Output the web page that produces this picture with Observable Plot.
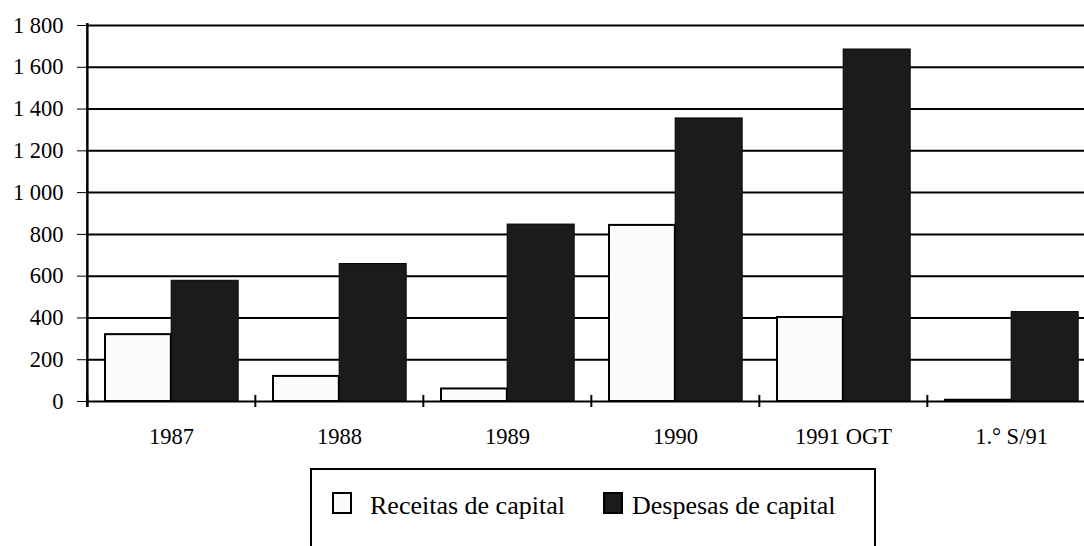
<!DOCTYPE html>
<html>
<head>
<meta charset="utf-8">
<script src="https://cdn.jsdelivr.net/npm/d3@7"></script>
<script src="https://cdn.jsdelivr.net/npm/@observablehq/plot@0.6"></script>
<style>
  html, body { margin: 0; padding: 0; background: #fff; overflow: hidden; width: 1084px; height: 546px; }
  #chart { width: 1100px; height: 460px; }
  #chart svg { display: block; overflow: visible; max-width: none !important; width: 1100px; height: 460px !important; }
  .legend {
    position: relative;
    margin-left: 310px; margin-top: 8px;
    width: 566px; height: 120px;
    border: 2px solid #000; border-bottom: none;
    font-family: "Liberation Serif", serif; font-size: 26px; color: #000;
    box-sizing: border-box;
  }
  .legend .sw { position: absolute; top: 22px; width: 20px; height: 22px; box-sizing: border-box; border: 2px solid #000; }
  .legend .lab { position: absolute; top: 23px; line-height: 26px; white-space: nowrap; }
</style>
</head>
<body>
<div id="chart"></div>
<div class="legend" id="legend"></div>
<script>
const years = ["1987", "1988", "1989", "1990", "1991 OGT", "1.° S/91"];
const receitas = [320, 120, 60, 843, 402, 6];
const despesas = [578, 658, 847, 1355, 1685, 428];
const yTicks = [0, 200, 400, 600, 800, 1000, 1200, 1400, 1600, 1800];
const seriesNames = ["Receitas de capital", "Despesas de capital"];
const seriesFill = ["#fbfbfb", "#1b1b1b"];

const data = years.map((year, i) => ({year, receitas: receitas[i], despesas: despesas[i]}));

const W = 1100, H = 460;
const plotLeft = 86, plotRight = 1096, plotTop = 25, plotBase = 401;
const bw = (plotRight - plotLeft) / years.length;
const fmt = d => d3.format(",")(d).replace(/,/g, " ");

const chart = Plot.plot({
  width: W, height: H,
  marginLeft: plotLeft, marginRight: W - plotRight, marginTop: plotTop, marginBottom: H - plotBase,
  style: {fontFamily: "'Liberation Serif', serif", fontSize: "22.5px", color: "#000", background: "#fff", overflow: "visible"},
  x: {domain: years, padding: 0, tickSize: 0, tickPadding: 27, label: null},
  y: {domain: [0, 1800], ticks: yTicks, tickFormat: fmt, tickSize: 9, tickPadding: 14, label: null},
  marks: [
    Plot.ruleY(yTicks, {stroke: "#000", strokeWidth: 2}),
    Plot.barY(data, {x: "year", y: "receitas", fill: seriesFill[0], stroke: "#000", strokeWidth: 2,
      insetLeft: bw * 0.107, insetRight: bw * 0.5}),
    Plot.barY(data, {x: "year", y: "despesas", fill: seriesFill[1], stroke: "#000", strokeWidth: 1,
      insetLeft: bw * 0.5, insetRight: bw * 0.1}),
    Plot.ruleX(years, {x: d => d, dx: -bw / 2, stroke: "#000", strokeWidth: 2,
      insetTop: (plotBase - plotTop) - 6, insetBottom: -6}),
    Plot.ruleX(years.slice(0, 1), {x: d => d, dx: -bw / 2, stroke: "#000", strokeWidth: 2.5, insetTop: -2, insetBottom: -6})
  ]
});
document.getElementById("chart").appendChild(chart);

const legend = document.getElementById("legend");
const swLeft = [20, 291], labLeft = [58, 320];
seriesNames.forEach((name, i) => {
  const sw = document.createElement("span");
  sw.className = "sw";
  sw.style.left = swLeft[i] + "px";
  sw.style.background = seriesFill[i];
  const t = document.createElement("span");
  t.className = "lab";
  t.style.left = labLeft[i] + "px";
  t.textContent = name;
  legend.appendChild(sw); legend.appendChild(t);
});
</script>
</body>
</html>
